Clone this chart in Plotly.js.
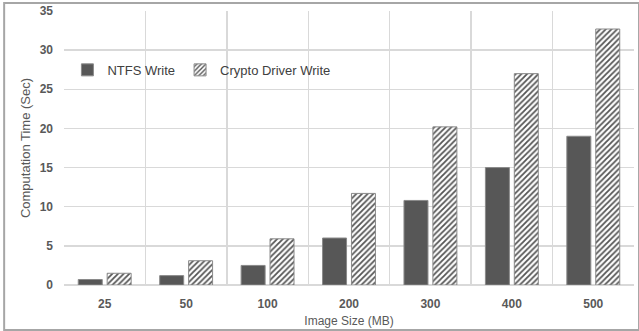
<!DOCTYPE html>
<html><head><meta charset="utf-8">
<script src="https://cdn.plot.ly/plotly-3.0.1.min.js"></script>
<style>html,body{margin:0;padding:0;background:#fff}</style>
</head><body><div id="chart" style="width:639px;height:331px"></div>
<script>
var categories = ["25", "50", "100", "200", "300", "400", "500"];
var ntfsWrite = [0.7, 1.2, 2.5, 6.0, 10.8, 15.0, 19.0];
var cryptoWrite = [1.5, 3.1, 5.9, 11.7, 20.2, 27.0, 32.7];
var seriesNames = ["NTFS Write", "Crypto Driver Write"];

var font = "Liberation Sans, Arial, sans-serif";
var traces = [
  {type: "bar", name: seriesNames[0], x: categories, y: ntfsWrite,
   marker: {color: "#575757", line: {color: "#8a8a8a", width: 1}}},
  {type: "bar", name: seriesNames[1], x: categories, y: cryptoWrite,
   marker: {color: "#ffffff", line: {color: "#8a8a8a", width: 1},
            pattern: {shape: "/", fgcolor: "#555555", bgcolor: "#ffffff", size: 4, solidity: 0.45}}}
];
var layout = {
  width: 639, height: 331,
  margin: {l: 64, r: 5, t: 11, b: 46},
  paper_bgcolor: "#ffffff", plot_bgcolor: "#ffffff",
  font: {family: font, color: "#595959"},
  barmode: "group", bargap: 0.29, bargroupgap: 0.17,
  showlegend: true,
  legend: {orientation: "h", x: 0.006, y: 0.785, yanchor: "middle", xanchor: "left",
           font: {size: 13, color: "#404040"}, bgcolor: "rgba(0,0,0,0)", itemwidth: 30},
  xaxis: {type: "category", tickson: "boundaries", showgrid: true, gridcolor: "#d9d9d9", gridwidth: 1.5,
          ticks: "", ticklabelstandoff: 10,
          tickfont: {size: 12, color: "#595959", weight: "bold"},
          title: {text: "Image Size (MB)", font: {size: 12, color: "#595959"}, standoff: 6},
          showline: false, zeroline: false, mirror: false},
  yaxis: {range: [0, 35], dtick: 5, showgrid: true, gridcolor: "#d9d9d9", gridwidth: 1.5,
          zeroline: true, zerolinecolor: "#d9d9d9", zerolinewidth: 1.5,
          ticks: "", ticklen: 0, ticklabelstandoff: 10,
          tickfont: {size: 12, color: "#595959", weight: "bold"},
          title: {text: "Computation Time (Sec)", font: {size: 13, color: "#595959"}, standoff: 6}},
  shapes: [{type: "rect", xref: "paper", yref: "paper", x0: -0.105, x1: 1.0088, y0: -0.164, y1: 1.029,
            line: {color: "#a6a6a6", width: 2}, fillcolor: "rgba(0,0,0,0)", layer: "below"}]
};
Plotly.newPlot("chart", traces, layout, {displayModeBar: false, staticPlot: true});
</script></body></html>
